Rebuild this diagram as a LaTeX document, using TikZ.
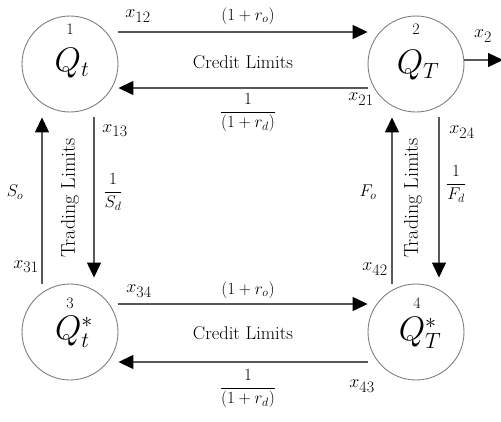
\RequirePackage{fix-cm}
\documentclass[tikz,border=0pt]{standalone}
\usepackage{fontspec}
\usetikzlibrary{arrows.meta}
\DeclareMathSizes{17}{17}{12}{9}
\DeclareMathSizes{18}{18}{13}{9}
\DeclareMathSizes{34}{34}{22}{16}
\newcommand{\xl}[1]{$x_{\mbox{\fontsize{16}{16}\selectfont #1}}$}
\tikzset{
  state/.style={circle, draw=black!50, line width=0.9pt, minimum size=96pt, inner sep=0pt},
  arr/.style={-{Triangle[length=15pt,width=14pt,color=black]}, draw=black!65, line width=1.3pt},
  lab/.style={font=\fontsize{17}{20}\selectfont, inner sep=0pt},
  xlab/.style={font=\fontsize{18}{20}\selectfont, inner sep=0pt},
  txt/.style={font=\fontsize{18.5}{20}\selectfont, inner sep=0pt},
  vtxt/.style={font=\fontsize{20}{22}\selectfont, inner sep=0pt, rotate=90},
  qlab/.style={font=\fontsize{34}{36}\selectfont, inner sep=0pt},
  num/.style={font=\fontsize{16}{18}\selectfont, inner sep=0pt},
}
\begin{document}
\begin{tikzpicture}[x=1pt,y=-1pt]
\useasboundingbox (0,0) rectangle (501,421);
% states
\node[state] (n1) at (70,64) {};
\node[state] (n2) at (416,64) {};
\node[state] (n3) at (70,332) {};
\node[state] (n4) at (416,332) {};
\node[num] (k1) at (70,29) {1};
\node[num] (k2) at (416,29) {2};
\node[num] (k3) at (70,303) {3};
\node[num] (k4) at (417,303) {4};
\node[qlab] (q1) at (72,63) {$Q_t$};
\node[qlab] (q2) at (418,65) {$Q_T$};
\node[qlab] (q3) at (74,332) {$Q^*_t$};
\node[qlab] (q4) at (420,333) {$Q^*_T$};
\coordinate (out) at (503,60);
% horizontal arrows
\draw[arr] ([yshift=32pt]n1.east) -- ([yshift=32pt]n2.west);
\draw[arr] ([yshift=-24pt]n2.west) -- ([yshift=-24pt]n1.east);
\draw[arr] ([yshift=28pt]n3.east) -- ([yshift=28pt]n4.west);
\draw[arr] ([yshift=-30pt]n4.west) -- ([yshift=-30pt]n3.east);
\draw[arr] ([yshift=4pt]n2.east) -- (out);
% vertical arrows
\draw[arr] ([xshift=-28pt]n3.north) -- ([xshift=-28pt,yshift=-5pt]n1.south);
\draw[arr, shorten >=6pt] ([xshift=24pt,yshift=-5pt]n1.south) -- ([xshift=24pt]n3.north);
\draw[arr] ([xshift=-24pt]n4.north) -- ([xshift=-24pt,yshift=-5pt]n2.south);
\draw[arr, shorten >=6pt] ([xshift=23pt,yshift=-5pt]n2.south) -- ([xshift=23pt]n4.north);
% top labels
\node[xlab] (l12) at (138,16) {\xl{12}};
\node[lab] (lro1) at (248,16) {$(1+r_o)$};
\node[txt] (cl1) at (243,62) {Credit Limits};
\node[lab] (lrd1) at (248,113) {$\displaystyle\frac{1}{(1+r_d)}$};
\node[xlab] (l21) at (361,99) {\xl{21}};
\node[xlab] (l2) at (483,36) {\xl{2}};
% left labels
\node[xlab] (l13) at (115,131) {\xl{13}};
\node[lab] (lsd) at (113,192) {$\displaystyle\frac{1}{S_d}$};
\node[lab] (lso) at (15,192) {$S_o$};
\node[xlab] (l31) at (26,267) {\xl{31}};
\node[vtxt] (tl1) at (70,198) {Trading Limits};
% right labels
\node[xlab] (l24) at (462,132) {\xl{24}};
\node[lab] (lfd) at (456,184) {$\displaystyle\frac{1}{F_d}$};
\node[lab] (lfo) at (368,192) {$F_o$};
\node[xlab] (l42) at (375,269) {\xl{42}};
\node[vtxt] (tl2) at (413,198) {Trading Limits};
% bottom labels
\node[xlab] (l34) at (139,291) {\xl{34}};
\node[lab] (lro2) at (248,290) {$(1+r_o)$};
\node[txt] (cl2) at (243,333) {Credit Limits};
\node[lab] (lrd2) at (248,389) {$\displaystyle\frac{1}{(1+r_d)}$};
\node[xlab] (l43) at (362,386) {\xl{43}};
\end{tikzpicture}
\end{document}
